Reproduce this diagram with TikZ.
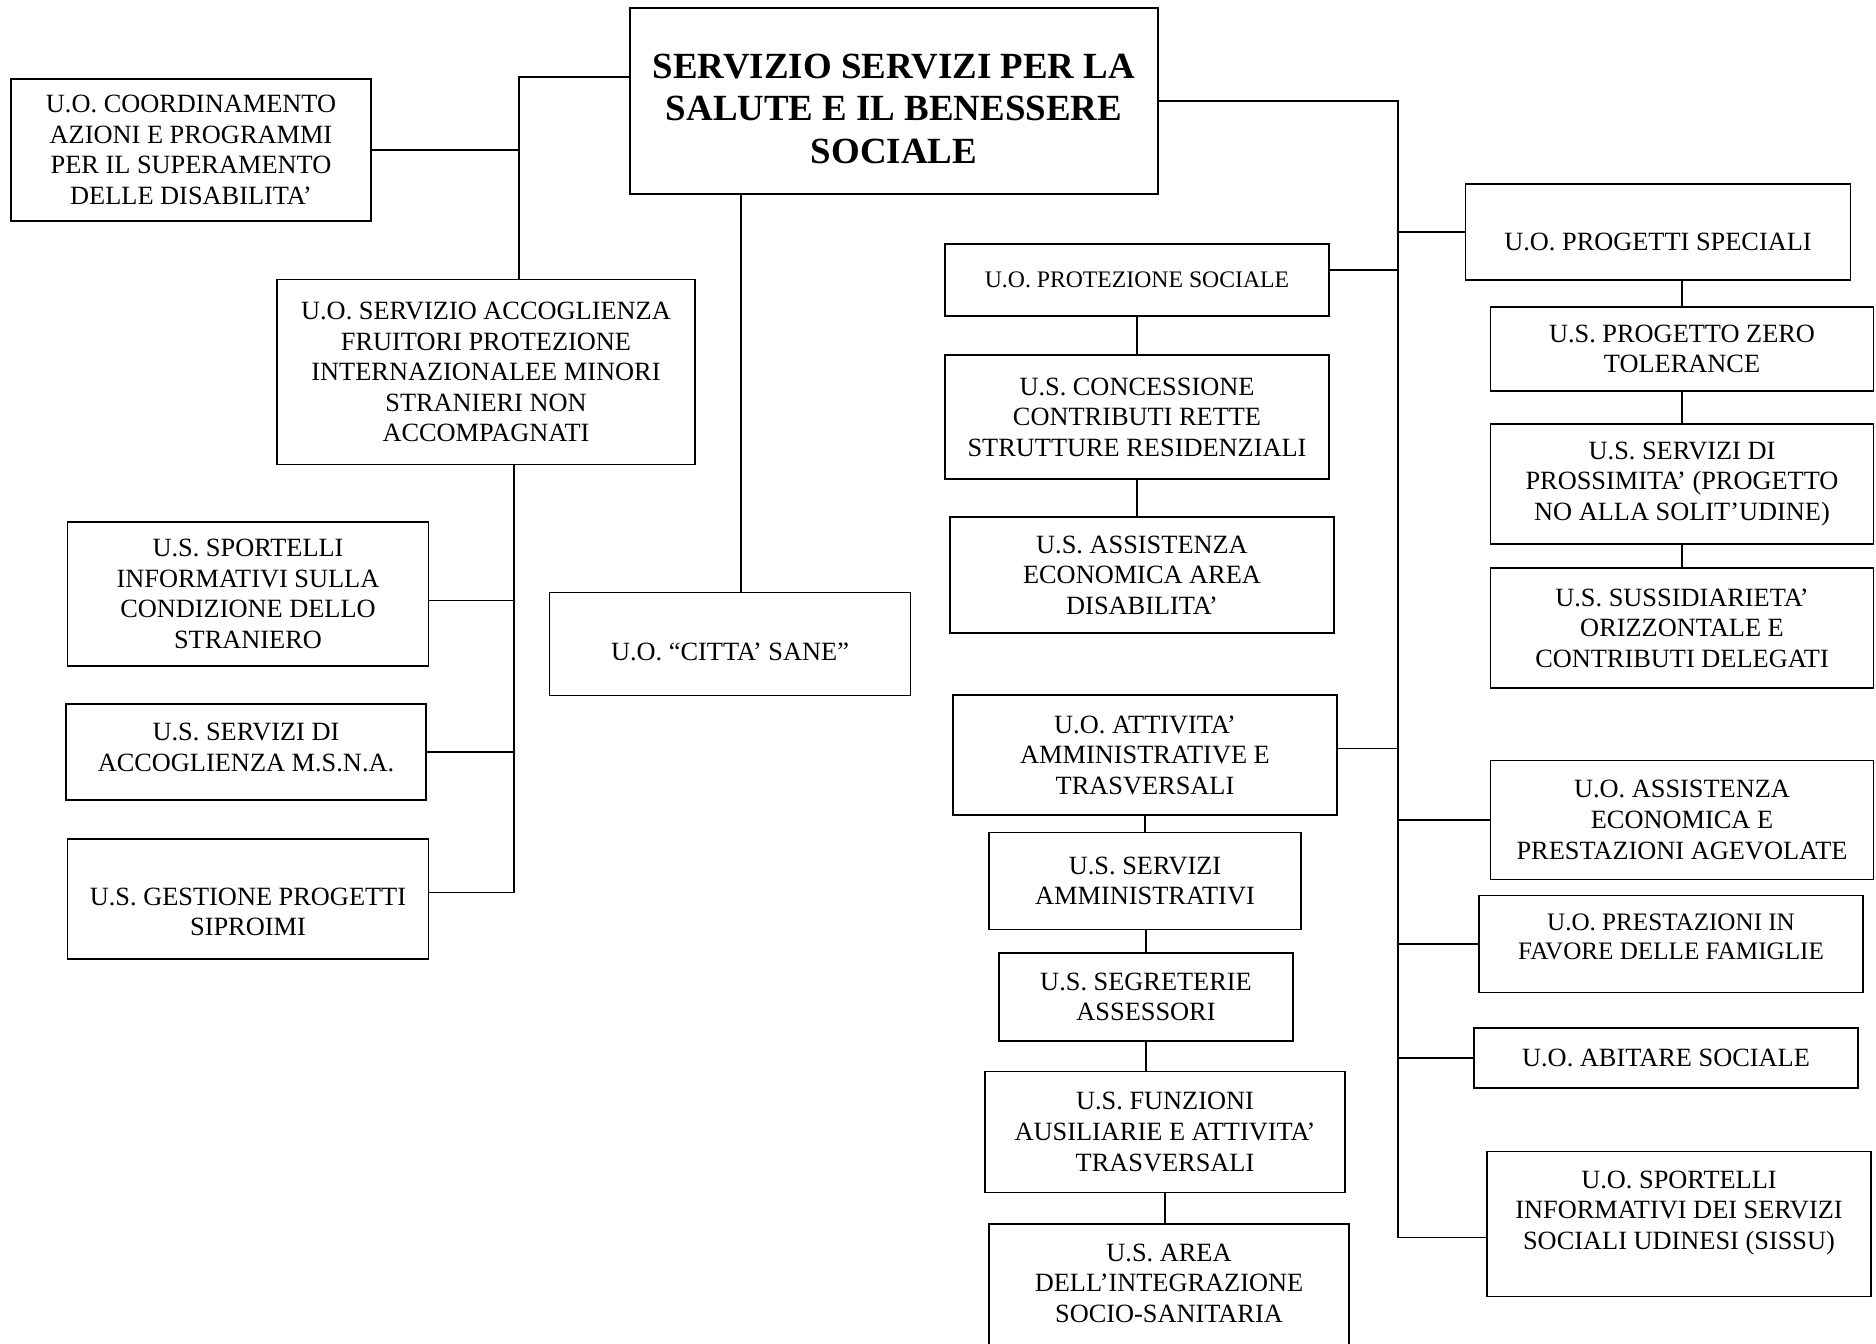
\documentclass[tikz,border=0pt]{standalone}
\usepackage{fontspec}
\setmainfont{Liberation Serif}
\usetikzlibrary{positioning}

\begin{document}
\begin{tikzpicture}[y=-0.02cm,x=0.02cm,
	unit/.style={draw, line width=1pt, align=center, inner sep=0pt, font=\fontsize{15}{17.4}\selectfont},
	boxsize/.style 2 args={minimum width=#1*0.02cm, minimum height=#2*0.02cm},
	tshift/.style={text depth=#1*0.02cm},
	tdrop/.style={text height=#1*0.02cm},
	link/.style={line width=0.7pt}]
	\useasboundingbox (0,0) rectangle (1876,1343);

	\node[unit, boxsize={528}{186}, tdrop=125, font=\fontsize{21}{24.2}\selectfont\bfseries] (main) at (894,101) {SERVIZIO SERVIZI PER LA\\SALUTE E IL BENESSERE\\SOCIALE};

	\node[unit, boxsize={360}{142}] (coord) at (191,150) {U.O. COORDINAMENTO\\AZIONI E PROGRAMMI\\PER IL SUPERAMENTO\\DELLE DISABILITA’};
	\node[unit, boxsize={418}{185}] (accogl) at (486,372) {U.O. SERVIZIO ACCOGLIENZA\\FRUITORI PROTEZIONE\\INTERNAZIONALEE MINORI\\STRANIERI NON\\ACCOMPAGNATI};
	\node[unit, boxsize={361}{144}] (sportelli) at (248,594) {U.S. SPORTELLI\\INFORMATIVI SULLA\\CONDIZIONE DELLO\\STRANIERO};
	\node[unit, boxsize={360}{96}, tshift=10] (msna) at (246,752) {U.S. SERVIZI DI\\ACCOGLIENZA M.S.N.A.};
	\node[unit, boxsize={361}{120}, tdrop=74] (siproimi) at (248,899) {U.S. GESTIONE PROGETTI\\SIPROIMI};
	\node[unit, boxsize={361}{103}, tdrop=34] (citta) at (730,644) {U.O. “CITTA’ SANE”};

	\node[unit, boxsize={384}{72}, font=\fontsize{13.5}{15.6}\selectfont] (protez) at (1137,280) {U.O. PROTEZIONE SOCIALE};
	\node[unit, boxsize={384}{124}] (concess) at (1137,417) {U.S. CONCESSIONE\\CONTRIBUTI RETTE\\STRUTTURE RESIDENZIALI};
	\node[unit, boxsize={384}{116}] (disab) at (1142,575) {U.S. ASSISTENZA\\ECONOMICA AREA\\DISABILITA’};
	\node[unit, boxsize={384}{120}] (attiv) at (1145,755) {U.O. ATTIVITA’\\AMMINISTRATIVE E\\TRASVERSALI};
	\node[unit, boxsize={312}{97}] (servamm) at (1145,881) {U.S. SERVIZI\\AMMINISTRATIVI};
	\node[unit, boxsize={294}{88}] (segret) at (1146,997) {U.S. SEGRETERIE\\ASSESSORI};
	\node[unit, boxsize={360}{121}] (funz) at (1165,1132) {U.S. FUNZIONI\\AUSILIARIE E ATTIVITA’\\TRASVERSALI};
	\node[unit, boxsize={360}{134}, tshift=16] (area) at (1169,1291) {U.S. AREA\\DELL’INTEGRAZIONE\\SOCIO-SANITARIA};

	\node[unit, boxsize={385}{96}, tdrop=37] (speciali) at (1658,232) {U.O. PROGETTI SPECIALI};
	\node[unit, boxsize={383}{84}] (zero) at (1682,349) {U.S. PROGETTO ZERO\\TOLERANCE};
	\node[unit, boxsize={383}{120}] (prossim) at (1682,484) {U.S. SERVIZI DI\\PROSSIMITA’ (PROGETTO\\NO ALLA SOLIT’UDINE)};
	\node[unit, boxsize={383}{120}] (sussid) at (1682,628) {U.S. SUSSIDIARIETA’\\ORIZZONTALE E\\CONTRIBUTI DELEGATI};
	\node[unit, boxsize={383}{119}] (agevol) at (1682,820) {U.O. ASSISTENZA\\ECONOMICA E\\PRESTAZIONI AGEVOLATE};
	\node[unit, boxsize={384}{97}, tshift=14, font=\fontsize{14.3}{16.6}\selectfont] (famiglie) at (1671,944) {U.O. PRESTAZIONI IN\\FAVORE DELLE FAMIGLIE};
	\node[unit, boxsize={384}{60}] (abitare) at (1666,1058) {U.O. ABITARE SOCIALE};
	\node[unit, boxsize={384}{145}, tshift=28] (sissu) at (1679,1224) {U.O. SPORTELLI\\INFORMATIVI DEI SERVIZI\\SOCIALI UDINESI (SISSU)};

	\coordinate (ltrunk) at (519,77);
	\coordinate (strunk) at (514,893);
	\coordinate (mtrunk) at (741,195);
	\coordinate (rtrunk) at (1398,101);

	\draw[link] (main.west |- ltrunk) -- (ltrunk) -- (ltrunk |- accogl.north);
	\draw[link] (coord.east) -- (coord.east -| ltrunk);
	\draw[link] (strunk |- accogl.south) -- (strunk |- siproimi.2) -- (siproimi.2);
	\draw[link] (sportelli.-2) -- (sportelli.-2 -| strunk);
	\draw[link] (msna.east) -- (msna.east -| strunk);
	\draw[link] (main.south -| mtrunk) -- (citta.north -| mtrunk);

	\draw[link] (main.east |- rtrunk) -- (rtrunk) -- (rtrunk |- sissu.184) -- (sissu.184);
	\foreach \n in {speciali, agevol, famiglie, abitare}
		\draw[link] (rtrunk |- \n.west) -- (\n.west);
	\draw[link] (protez.3) -- (protez.3 -| rtrunk);
	\draw[link] (attiv.2) -- (attiv.2 -| rtrunk);

	\draw[link] (zero.north |- speciali.south) -- (zero.north);
	\draw[link] (zero.south) -- (prossim.north);
	\draw[link] (prossim.south) -- (sussid.north);
	\draw[link] (protez.south) -- (protez.south |- concess.north);
	\draw[link] (concess.south) -- (concess.south |- disab.north);
	\draw[link] (attiv.south) -- (attiv.south |- servamm.north);
	\draw[link] (segret.north |- servamm.south) -- (segret.north);
	\draw[link] (segret.south) -- (segret.south |- funz.north);
	\draw[link] (funz.south) -- (funz.south |- area.north);
\end{tikzpicture}
\end{document}
